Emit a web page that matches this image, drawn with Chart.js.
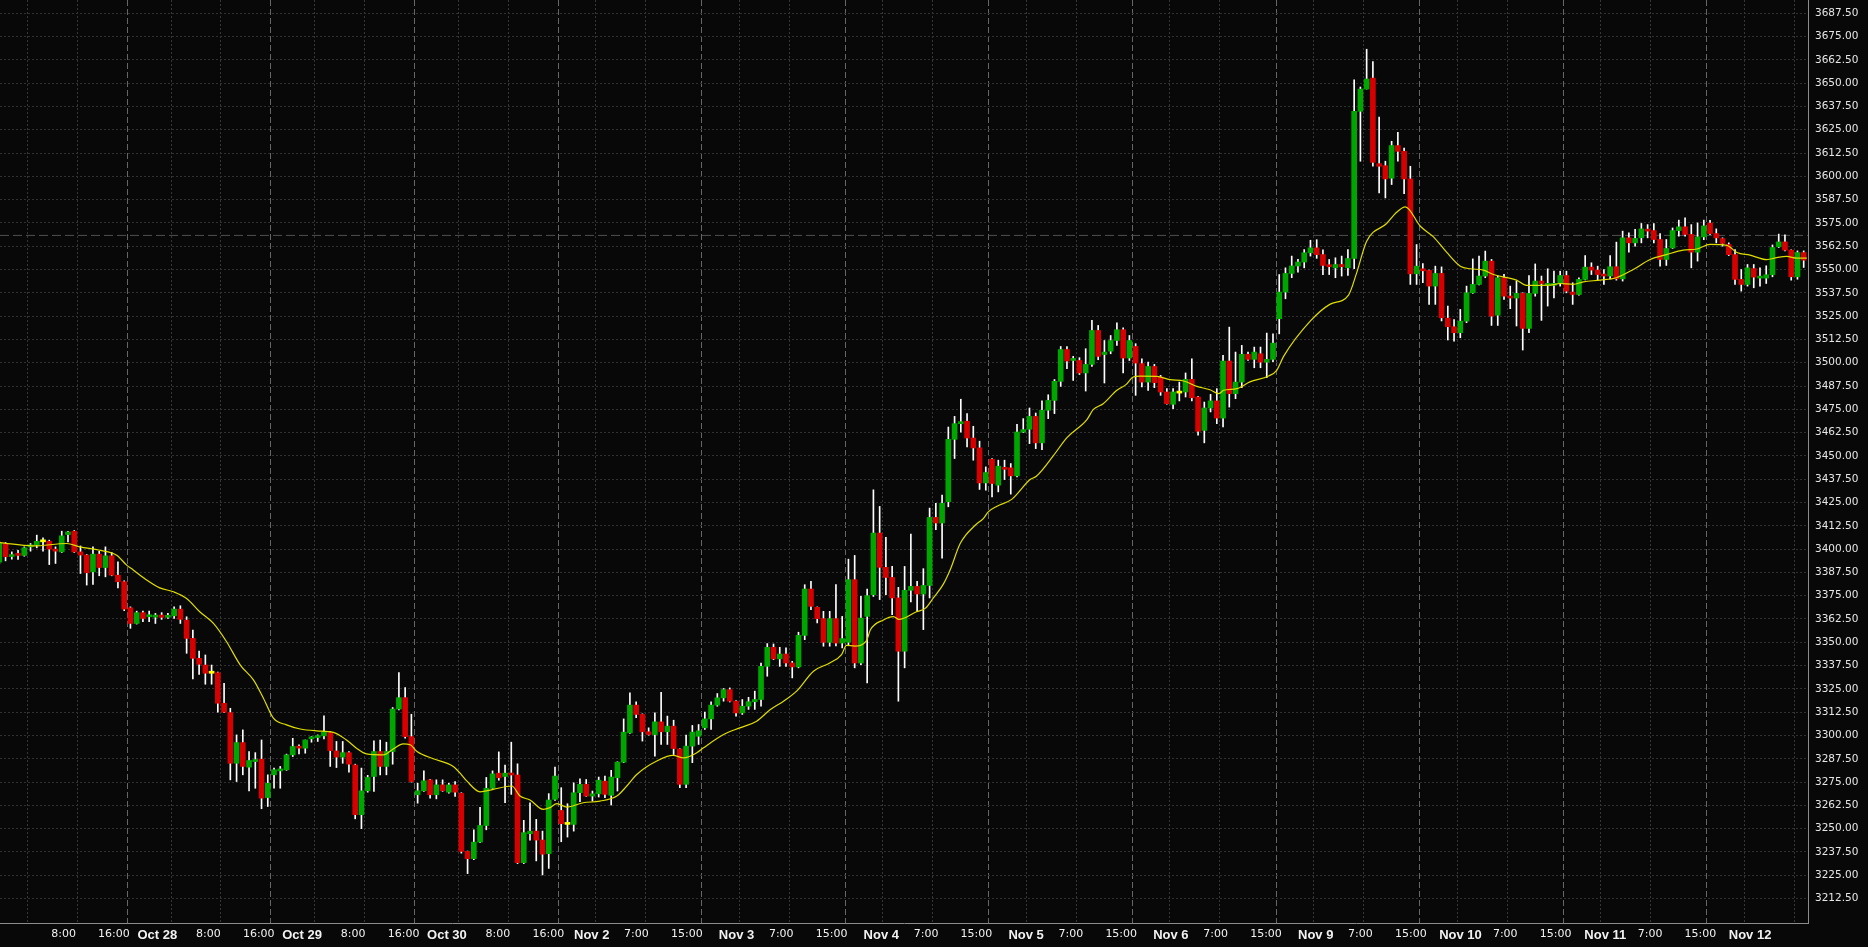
<!DOCTYPE html>
<html lang="en">
<head>
<meta charset="UTF-8">
<title>Hourly candles Oct 27 - Nov 12</title>
<style>
  html, body { margin: 0; padding: 0; background: #080808; }
  #wrap { width: 1868px; height: 947px; }
</style>
</head>
<body>
<div id="wrap"><canvas id="chart" width="1868" height="947"></canvas></div>
<script src="https://cdn.jsdelivr.net/npm/chart.js"></script>
<script>
// hourly bars, 23 per session, index 0 = first bar on screen
const opens = [
  3393, 3403, 3396, 3397.5, 3396.6, 3401.2, 3402.1, 3403.9, 3404.2, 3400,
  3398.5, 3407.8, 3409.6, 3398.5, 3396.8, 3387.8, 3397.3, 3390.1, 3396.4, 3386,
  3382.5, 3368.5, 3360.1, 3365.9, 3363.7, 3363.5, 3364.6, 3363.4, 3364.2, 3367.8,
  3361.9, 3352.1, 3341.4, 3337.8, 3333.4, 3333.7, 3317.3, 3312.3, 3285.1, 3296.2,
  3283, 3286, 3287.3, 3266.7, 3278.9, 3281, 3281.6, 3289.6, 3294.1, 3293.2,
  3298.2, 3298.9, 3299.8, 3301.6, 3291.7, 3288.4, 3290.8, 3284.2, 3257.5, 3270.3,
  3278, 3291.4, 3283.4, 3291.4, 3314.2, 3320.3, 3299.4, 3268.2, 3270.3, 3276.2,
  3268.2, 3273.5, 3269.6, 3273.5, 3269, 3237.8, 3233.9, 3242.8, 3251.7, 3271.7,
  3279.8, 3278, 3279.8, 3278.8, 3231.8, 3247.3, 3248.7, 3243.9, 3236.6, 3265.7,
  3259.8, 3252.3, 3252.3, 3269.3, 3273.8, 3267.5, 3268.7, 3275.5, 3267.9, 3277.3,
  3285.7, 3301.4, 3316.3, 3311.3, 3302, 3300.5, 3307.3, 3302, 3305, 3292.8,
  3273.8, 3294.3, 3299.6, 3304.1, 3308.9, 3316.3, 3320.2, 3324.6, 3318.4, 3312.1,
  3315.7, 3318.1, 3319.3, 3337.1, 3347.3, 3341.1, 3343.7, 3338.9, 3336.8, 3353.7,
  3378.6, 3368.8, 3362.7, 3350, 3362.7, 3349.6, 3350, 3383.6, 3338.9, 3363.9,
  3375.5, 3408.6, 3390.2, 3384.8, 3373.8, 3345.2, 3377.9, 3380, 3375.9, 3380.5,
  3417, 3414, 3425.4, 3458.9, 3467.3, 3468.6, 3459.6, 3454.3, 3435.5, 3448.2,
  3434.3, 3443.7, 3443.6, 3439.3, 3462.8, 3464.3, 3471.2, 3457, 3474.5, 3479.8,
  3490, 3507.1, 3501.2, 3501.2, 3494.5, 3499.1, 3517.3, 3504.4, 3506.2, 3511.9,
  3517.7, 3502.5, 3508.7, 3499.5, 3489.6, 3498, 3492.3, 3484.3, 3477.7, 3483.7,
  3484.3, 3491.1, 3481.6, 3463.7, 3475.7, 3479.5, 3470.3, 3500.9, 3483.4, 3489.6,
  3504.5, 3501.8, 3504.8, 3500.3, 3501.8, 3523.6, 3537.9, 3547.9, 3551.9, 3554,
  3559, 3561.6, 3558, 3552.2, 3550.9, 3552.7, 3550.9, 3555.9, 3634.9, 3646.8,
  3652.7, 3606.8, 3605.7, 3599, 3616.5, 3613.4, 3598.6, 3547.7, 3550.4, 3549.5,
  3541.1, 3547.9, 3523.9, 3519.3, 3516.1, 3522.3, 3537.5, 3542, 3546.5, 3554.5,
  3525.5, 3545.6, 3535.7, 3534.7, 3537.2, 3518.4, 3537.2, 3543.8, 3541.5, 3541.5,
  3542.5, 3546.8, 3537.9, 3536.6, 3544.7, 3551.3, 3549.7, 3547.3, 3546.5, 3551.5,
  3545, 3567, 3564.3, 3567, 3571.5, 3570.9, 3566.1, 3555.4, 3561.6, 3570.9,
  3572.9, 3568.8, 3559.3, 3567.5, 3574.9, 3569.3, 3566.6, 3563.4, 3558, 3544.7,
  3542, 3550.5, 3545.4, 3545.4, 3547.2, 3562.2, 3564.8, 3560.4, 3546.1, 3559.1
];
const highs = [
  3404, 3403.5, 3398.5, 3399.4, 3401.2, 3403, 3407.5, 3406, 3404.8, 3401.2,
  3409.6, 3409.6, 3410, 3401.7, 3397.1, 3401.2, 3398.9, 3401.2, 3398.2, 3393.2,
  3383, 3369, 3366.7, 3366.7, 3366.7, 3365.5, 3365.9, 3365.5, 3369, 3369.6,
  3363.7, 3356.6, 3345.3, 3343.2, 3337.8, 3334, 3328, 3314.6, 3300.3, 3303,
  3291.4, 3290.8, 3297.6, 3278.9, 3282.5, 3283.4, 3290, 3298.5, 3295, 3297.6,
  3299.4, 3300.3, 3310.5, 3302.1, 3296.8, 3296.8, 3291.4, 3284.6, 3282.5, 3278.6,
  3297.1, 3297.6, 3296.4, 3315, 3333.7, 3325.7, 3311.4, 3274.4, 3281, 3276.5,
  3276.2, 3276.2, 3274.4, 3275.3, 3269.3, 3238, 3249.4, 3261.4, 3277.5, 3281,
  3291.2, 3284.1, 3296.4, 3284.8, 3254.5, 3263.9, 3255, 3248.7, 3268.8, 3283,
  3272, 3263.4, 3274.6, 3276.8, 3276.4, 3270.2, 3277.7, 3278.2, 3281.3, 3285.9,
  3308.9, 3322.9, 3318.1, 3311.6, 3304.1, 3312.1, 3323.2, 3310.4, 3308.2, 3293,
  3300.2, 3305.4, 3305.9, 3312.5, 3318.1, 3322.5, 3325.2, 3325.5, 3318.7, 3319.3,
  3320.5, 3323.8, 3338.9, 3349.3, 3349.1, 3347.3, 3347, 3339.8, 3355.4, 3380.9,
  3382.7, 3369, 3366.6, 3366.6, 3380.9, 3363.9, 3394.6, 3396.6, 3374.6, 3378.6,
  3431.8, 3422.9, 3406.3, 3390.7, 3379.5, 3390.7, 3408, 3382.7, 3389.5, 3422,
  3424.6, 3429, 3465.5, 3471.2, 3480.4, 3472.7, 3465.9, 3457.9, 3444.1, 3448.5,
  3447.7, 3447.7, 3445.9, 3467, 3470, 3475.7, 3473, 3479.5, 3482.8, 3491,
  3508.7, 3508.7, 3503.4, 3502.7, 3507.5, 3522.7, 3520, 3511.9, 3514.6, 3521.4,
  3518.7, 3514.6, 3510.2, 3502.1, 3500.3, 3499.1, 3493.2, 3486.1, 3486.1, 3489.6,
  3494.5, 3502.1, 3481.9, 3478.9, 3483, 3486.1, 3503.9, 3519.1, 3505.7, 3509.3,
  3505.7, 3508.4, 3508.4, 3515.9, 3515.5, 3547.3, 3550.9, 3557.2, 3555.4, 3560.7,
  3565.7, 3566, 3560.5, 3555.4, 3556.3, 3557.2, 3560.7, 3651.8, 3647.9, 3668.2,
  3661.6, 3631.8, 3608.1, 3618.8, 3623.6, 3615.2, 3605.4, 3563.4, 3553.2, 3549.7,
  3551.8, 3551.4, 3530.4, 3523.2, 3528.6, 3541.1, 3555.7, 3557.2, 3559.9, 3555.4,
  3546.5, 3547.4, 3541.1, 3543.8, 3537.5, 3546.8, 3553, 3546.5, 3550.4, 3549.1,
  3549.1, 3549.1, 3542.9, 3545.6, 3557.5, 3553.6, 3551.8, 3550, 3557.5, 3564.7,
  3570.6, 3569.7, 3571.5, 3574.7, 3574.1, 3574.7, 3569.3, 3566.1, 3572.3, 3576.5,
  3577.7, 3574.1, 3575, 3576.5, 3576.4, 3571.8, 3567, 3564.3, 3560.7, 3550,
  3552.7, 3552.7, 3550.9, 3552, 3563.2, 3569, 3568.6, 3560.6, 3560, 3560
];
const lows = [
  3392, 3393.7, 3394.6, 3394.4, 3396.2, 3398.9, 3400.7, 3398.9, 3391.7, 3392.3,
  3398.2, 3403.9, 3398.2, 3386.9, 3380.7, 3381, 3385.7, 3385.1, 3385.7, 3379.2,
  3367, 3357.5, 3359.8, 3361, 3361, 3360.1, 3362.3, 3362.8, 3362.8, 3360.1,
  3344.1, 3330.3, 3332.8, 3327.5, 3327.5, 3312.5, 3312.3, 3276.2, 3275.3, 3278.9,
  3270.3, 3271.7, 3260.7, 3261.9, 3271.7, 3271.7, 3281.3, 3288.7, 3290.1, 3290.5,
  3296.4, 3296.8, 3298.2, 3283.4, 3282.8, 3285.1, 3280.3, 3255.3, 3250, 3269.6,
  3270, 3278.9, 3278.9, 3284.6, 3313.7, 3298.5, 3275, 3263.7, 3270, 3266.4,
  3266, 3270, 3269, 3267.3, 3236.9, 3225.9, 3233.4, 3242.5, 3249.4, 3271.4,
  3276, 3263.9, 3268.4, 3231.3, 3231.3, 3243.8, 3232.7, 3225.2, 3228.7, 3265.2,
  3243, 3245.5, 3248.7, 3264.5, 3267.3, 3264.8, 3267, 3266.6, 3262.7, 3270.2,
  3285.4, 3301.1, 3309.5, 3297, 3300.2, 3288.9, 3295.2, 3295.2, 3289.8, 3272,
  3272, 3285.4, 3295.2, 3303.2, 3303.2, 3315.7, 3318.4, 3318, 3310.4, 3311.3,
  3314, 3314, 3315.7, 3331.8, 3340.7, 3337.1, 3337.1, 3330.9, 3336.3, 3351.4,
  3367.5, 3360.4, 3347.9, 3347.9, 3348, 3347, 3348.7, 3336.3, 3338, 3328.2,
  3374.6, 3372.9, 3375.5, 3364.8, 3318.4, 3336.3, 3371.6, 3366.6, 3356.8, 3373.8,
  3410.4, 3395.2, 3422.7, 3448.6, 3462.8, 3454.8, 3447.7, 3432, 3431.6, 3428,
  3430.7, 3437.3, 3429.5, 3438.7, 3462.5, 3456.6, 3453.9, 3453.4, 3470, 3472.7,
  3487.3, 3496.8, 3490.5, 3493.7, 3484.8, 3498, 3501.6, 3489.1, 3504.8, 3509.3,
  3494.5, 3501.2, 3482.5, 3487, 3485.2, 3486.6, 3482.5, 3477.7, 3475.4, 3479.5,
  3481.6, 3479.5, 3461.1, 3457, 3473.6, 3467.3, 3465.5, 3476.2, 3480.7, 3486.6,
  3501.2, 3497.3, 3497.3, 3492, 3500.5, 3515.5, 3534.3, 3545.6, 3548.6, 3550.9,
  3557.2, 3556, 3547.3, 3547.3, 3545.6, 3546.5, 3546.8, 3550.4, 3608.1, 3646.8,
  3605.4, 3591.1, 3588.4, 3595.6, 3608.1, 3590.7, 3542, 3542, 3542.9, 3531.3,
  3531.3, 3522.4, 3512.2, 3511.6, 3513.4, 3521.5, 3537.2, 3541.7, 3545.6, 3520,
  3520, 3534, 3529, 3519.7, 3506.8, 3516.1, 3535.7, 3522.7, 3530.4, 3534.8,
  3541.1, 3537.5, 3531.3, 3536.3, 3544.4, 3547.3, 3544.3, 3542, 3545, 3544.3,
  3543.8, 3559.3, 3562.5, 3564.3, 3567, 3564.3, 3551.8, 3552.2, 3561.3, 3567.9,
  3567.9, 3550.9, 3554.5, 3566, 3568.8, 3564.3, 3562.5, 3557.5, 3542, 3538.4,
  3541.1, 3540.2, 3541.1, 3542.5, 3546.1, 3561.8, 3560, 3544.3, 3544.8, 3551.1
];
const closes = [
  3403.5, 3395.9, 3397, 3396.6, 3400.7, 3402.1, 3404.2, 3403.9, 3400, 3398.9,
  3407.1, 3409.2, 3398.5, 3396.8, 3387.3, 3397.3, 3390.1, 3396.4, 3386, 3382.5,
  3367.8, 3360.1, 3365.9, 3362.8, 3364.6, 3364.6, 3363.4, 3364.2, 3367.8, 3362.3,
  3352.1, 3341.4, 3338.2, 3333.4, 3333.4, 3317.3, 3312.5, 3285.1, 3296.2, 3283.4,
  3286.6, 3287, 3266.4, 3274.4, 3281.6, 3281.9, 3289.6, 3294.1, 3293.2, 3297.6,
  3298.9, 3299.8, 3302.1, 3291.9, 3288.4, 3290.8, 3284.6, 3257.5, 3270.3, 3277.5,
  3291.4, 3283.4, 3291.4, 3314.2, 3320.3, 3299.4, 3275.3, 3270.3, 3275.7, 3268.2,
  3273.5, 3270.3, 3273.5, 3269.6, 3237.8, 3233.9, 3242.8, 3251.7, 3271.7, 3279.4,
  3277.3, 3279.8, 3278.8, 3231.8, 3247.9, 3248.7, 3243.9, 3236.3, 3265.4, 3278.2,
  3252.7, 3252.3, 3269.3, 3273.8, 3267.5, 3268.7, 3276, 3268.4, 3277.7, 3285.7,
  3301.8, 3316.3, 3311.3, 3302, 3300.5, 3307.3, 3302, 3305, 3293, 3273.8,
  3294.3, 3301.8, 3302.5, 3308.9, 3316.3, 3320.2, 3324.6, 3318.4, 3312.1, 3315.7,
  3318.1, 3319.3, 3337.1, 3347.3, 3341.1, 3343.7, 3338.9, 3336.8, 3353.7, 3378.6,
  3369.3, 3362.7, 3350, 3362.7, 3349.6, 3352, 3383.6, 3338.9, 3363, 3375,
  3408.6, 3390.2, 3384.8, 3373.8, 3345.2, 3377.9, 3380, 3375.9, 3380.5, 3417,
  3414, 3424.6, 3458.9, 3467.3, 3468.2, 3459.6, 3454.3, 3435.5, 3441.1, 3435.2,
  3444.5, 3442.8, 3439.3, 3462.8, 3464.1, 3471.2, 3457, 3474.5, 3479.8, 3490,
  3507.1, 3500.9, 3502.1, 3494.5, 3499.1, 3517.3, 3503.4, 3505.7, 3511.9, 3517.7,
  3502.5, 3511.9, 3499.8, 3489.6, 3498, 3489.3, 3484.3, 3478, 3484.3, 3483.7,
  3491.1, 3481.2, 3463.2, 3475.7, 3479.5, 3470.3, 3500.9, 3483.4, 3489.6, 3504.5,
  3501.8, 3505.7, 3500.3, 3501.8, 3510.5, 3537.9, 3547.9, 3551.9, 3554, 3559,
  3561.6, 3558, 3552.2, 3551.5, 3552.7, 3551.5, 3555.9, 3634.9, 3646.8, 3652.2,
  3607.5, 3605.4, 3598.6, 3616.5, 3613.4, 3598.6, 3547.7, 3551.8, 3549.3, 3541.1,
  3547.9, 3524.1, 3519.3, 3516.1, 3522.3, 3537.5, 3542, 3546.5, 3554.5, 3525,
  3545.6, 3535.7, 3534.7, 3537.2, 3518.4, 3537.2, 3543.8, 3542.5, 3542.5, 3542.4,
  3546.8, 3538.4, 3536.6, 3544.7, 3551.3, 3549.7, 3547.3, 3546.5, 3551.5, 3545,
  3567, 3564.3, 3566.7, 3571.8, 3570.6, 3566.1, 3555.4, 3561.3, 3570.9, 3572.9,
  3568.8, 3559.3, 3567.5, 3573.4, 3569.3, 3567, 3564, 3558, 3544.7, 3542,
  3550.9, 3545.9, 3546.3, 3547.2, 3561.8, 3564.8, 3560.4, 3546.1, 3559.1, 3555
];

// moving average line, read at these bar positions
const maIdx = [
  0.1, 5.4, 10.8, 12.9, 16.1, 18.8, 20.4, 21.5, 23.1, 25.7, 27.9, 30, 32.1, 34.3, 36.4, 38.6,
  40.7, 42.3, 43.9, 46, 48.2, 50.8, 53.5, 55.6, 57.2, 58.8, 61.5, 63.1, 64.7, 65.8, 66.9, 69.5,
  72.7, 73.8, 74.9, 77, 79.1, 82.1, 83.4, 85, 87.1, 88.2, 89.3, 90.9, 93.5, 96.2, 98.9, 100.5,
  102.1, 105.3, 107.9, 109.6, 111.7, 112.8, 116, 118.6, 121.3, 123.5, 125.6, 127.7, 130.4, 133,
  134.9, 135.7, 137, 138.9, 139.5, 141.6, 143.2, 144.1, 146.9, 148.3, 149.6, 151.2, 152.3, 153.9,
  156.3, 157.6, 158.4, 159.8, 162.2, 165.1, 166.1, 168.8, 171, 174.2, 175.2, 176.8, 179, 180.5,
  181.6, 182.7, 185.4, 187.5, 189.7, 191.8, 193.9, 195.3, 196.1, 198.2, 200.3, 203.3, 204.6, 205.7,
  210, 213.1, 216.1, 217.4, 219, 222.2, 223.8, 225.2, 227.6, 229.7, 231.8, 234, 235.6, 237.7,
  239.3, 243, 244.6, 248.4, 250, 252.1, 253.7, 256.4, 259, 261.7, 264.4, 267, 269.7, 271.9,
  274, 276.7, 278.3, 280.4, 283.1, 284.7, 286.3, 287.9, 289.5
];
const maVal = [
  3403.5, 3401.7, 3403, 3401.2, 3399.4, 3396.7, 3391.4, 3388.7, 3384.6, 3379.2, 3377.1, 3373.5, 3366.4, 3360.1, 3350.3, 3337.8,
  3329.8, 3320, 3309.3, 3305.7, 3303.5, 3302.5, 3301.7, 3297.6, 3293.2, 3290.1, 3289.6, 3292.8, 3295.5, 3295, 3291.4, 3287.5,
  3283.4, 3279.8, 3275.5, 3269.8, 3271.1, 3272.9, 3267.5, 3265.4, 3260.4, 3261.3, 3263.4, 3261.6, 3263.9, 3264.8, 3267.5, 3272.9,
  3279.1, 3286.3, 3289.3, 3288, 3290.7, 3293.4, 3300.5, 3304.1, 3307.7, 3313.9, 3318.4, 3323.8, 3334.5, 3338.9,
  3343.4, 3348.4, 3348, 3350.9, 3356.6, 3362, 3363.8, 3362.3, 3366.4, 3368.2, 3373.8, 3381.2, 3388.9, 3403,
  3412.8, 3416.4, 3420, 3423, 3426.8, 3437.3, 3439.1, 3450, 3459.8, 3469.5, 3474.8, 3478, 3485.2, 3488.4,
  3492.3, 3492.8, 3492.7, 3490.9, 3490.2, 3487.3, 3485.5, 3483.4, 3485.2, 3486.1, 3489.7, 3492.9, 3495.9, 3503.4,
  3522.4, 3531.3, 3536.3, 3548.2, 3565.2, 3574.7, 3580.7, 3583.6, 3573.2, 3567.5, 3559.3, 3551.8, 3550.4, 3549.7,
  3547.3, 3544.3, 3541.5, 3541.6, 3542.5, 3542, 3543.4, 3544.3, 3545.6, 3550, 3555.4, 3558, 3560.4, 3561,
  3563.5, 3563, 3559.1, 3557.7, 3555.3, 3556.4, 3557, 3556.1, 3556.1
];

// dashed price line across the chart
const markerPrice = 3568.3;

// vertical grid / time labels: first bar index after each line
const tickIdx = [5, 13, 21, 28, 36, 44, 51, 59, 67, 74, 82, 90, 96, 104, 113, 119, 127, 136, 142, 150,
                 159, 165, 173, 182, 188, 196, 205, 211, 219, 228, 234, 242, 251, 257, 265, 274, 280, 288];
const tickText = ['8:00', '16:00', 'Oct 28', '8:00', '16:00', 'Oct 29', '8:00', '16:00', 'Oct 30', '8:00',
                  '16:00', 'Nov 2', '7:00', '15:00', 'Nov 3', '7:00', '15:00', 'Nov 4', '7:00', '15:00',
                  'Nov 5', '7:00', '15:00', 'Nov 6', '7:00', '15:00', 'Nov 9', '7:00', '15:00', 'Nov 10',
                  '7:00', '15:00', 'Nov 11', '7:00', '15:00', 'Nov 12', '7:00', '15:00'];

const yTicks = [3212.5, 3225, 3237.5, 3250, 3262.5, 3275, 3287.5, 3300, 3312.5, 3325, 3337.5, 3350, 3362.5,
                3375, 3387.5, 3400, 3412.5, 3425, 3437.5, 3450, 3462.5, 3475, 3487.5, 3500, 3512.5, 3525,
                3537.5, 3550, 3562.5, 3575, 3587.5, 3600, 3612.5, 3625, 3637.5, 3650, 3662.5, 3675, 3687.5];

const xMin = 0.11, xMax = 289.69;
const yMin = 3199.4, yMax = 3694.6;

const isDate = t => t.indexOf(':') < 0;
const hourLines = tickIdx.filter((v, i) => !isDate(tickText[i]));
const dateLines = tickIdx.filter((v, i) => isDate(tickText[i]));
// labels sit a little right of their line; the last two have no room
const labels = tickIdx.map((v, i) => ({ idx: v, text: tickText[i] })).filter(l => l.idx <= 274);

const wicks = lows.map((l, i) => ({ x: i, y: [l, highs[i]] }));
const bodies = opens.map((o, i) => ({ x: i, y: [o, closes[i]] }));
const bodyColors = opens.map((o, i) => closes[i] > o ? '#00a600' : (closes[i] < o ? '#d60000' : '#ffff00'));
const maPoints = maIdx.map((x, i) => ({ x: x, y: maVal[i] }));

function noPad(s) {
  s.paddingTop = 0; s.paddingBottom = 0; s.paddingLeft = 0; s.paddingRight = 0;
}

function gridAxis(lines, color, dash, weight) {
  return {
    type: 'linear', position: 'bottom', min: xMin, max: xMax, offset: false, weight: weight,
    afterBuildTicks: s => { s.ticks = lines.map(v => ({ value: v - 0.5 })); },
    afterFit: s => { s.height = 0; noPad(s); },
    ticks: { display: false },
    grid: { color: color, lineWidth: 1, drawTicks: false, offset: false },
    border: { display: false, dash: dash }
  };
}

new Chart(document.getElementById('chart'), {
  type: 'bar',
  data: {
    datasets: [
      {
        type: 'line',
        data: [{ x: xMin, y: markerPrice }, { x: xMax, y: markerPrice }],
        borderColor: '#505050', borderWidth: 1, borderDash: [9, 4],
        pointRadius: 0, order: 4
      },
      { data: wicks, backgroundColor: '#ffffff', barThickness: 1, grouped: false, order: 3 },
      { data: bodies, backgroundColor: bodyColors, barThickness: 5, minBarLength: 2, grouped: false, order: 2 },
      {
        type: 'line', data: maPoints,
        borderColor: '#dede00', borderWidth: 1.2, pointRadius: 0,
        cubicInterpolationMode: 'monotone', order: 1
      }
    ]
  },
  options: {
    responsive: false,
    animation: false,
    devicePixelRatio: 1,
    layout: { padding: 0, autoPadding: false },
    plugins: { legend: { display: false }, tooltip: { enabled: false } },
    scales: {
      x: gridAxis(hourLines, '#363636', [2, 2], 0),
      xd: gridAxis(dateLines, '#666666', [6, 3], 1),
      xl: {
        type: 'linear', position: 'bottom', weight: 2, offset: false,
        min: -5.1, max: 282.09,
        afterBuildTicks: s => { s.ticks = labels.map(l => ({ value: isDate(l.text) ? l.idx - 1.11 : l.idx })); },
        afterFit: s => { s.height = 24; noPad(s); },
        grid: { display: false, drawTicks: false, offset: false },
        border: { display: true, color: '#8c8c8c', width: 1 },
        ticks: {
          autoSkip: false, maxRotation: 0, minRotation: 0, padding: 4.5,
          callback: (v, i) => labels[i] ? labels[i].text : '',
          color: '#f2f2f2',
          font: ctx => (labels[ctx.index] && isDate(labels[ctx.index].text))
            ? { family: 'Liberation Sans', size: 13, weight: 'bold' }
            : { family: 'DejaVu Sans', size: 11 }
        }
      },
      y: {
        type: 'linear', position: 'right', min: yMin, max: yMax, beginAtZero: false,
        afterBuildTicks: s => { s.ticks = yTicks.map(v => ({ value: v })); },
        afterFit: s => { s.width = 60; noPad(s); },
        grid: { color: '#303030', lineWidth: 1, drawTicks: false },
        border: { display: true, color: '#8c8c8c', width: 1, dash: [2, 2] },
        ticks: {
          padding: 7, color: '#e6e6e6',
          font: { family: 'DejaVu Sans', size: 10.5 },
          callback: v => Number(v).toFixed(2)
        }
      }
    }
  }
});
</script>
</body>
</html>
